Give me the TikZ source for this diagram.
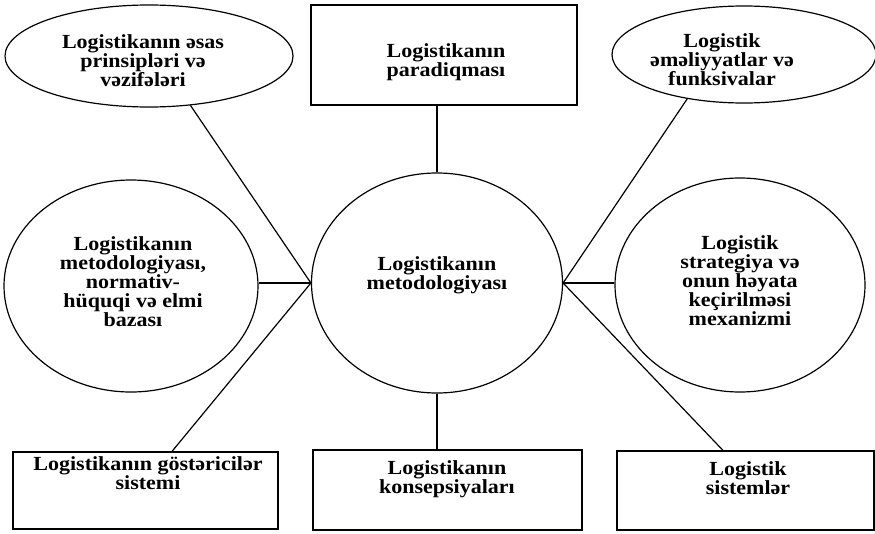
\documentclass[tikz,border=0pt]{standalone}
\usepackage{fontspec}
\setmainfont{Liberation Serif}[FakeStretch=1.1]
\usetikzlibrary{shapes.geometric,calc}
\begin{document}
\begin{tikzpicture}[x=1pt,y=-1pt,
  txt/.style={font=\fontsize{20}{19}\selectfont\bfseries, align=center, inner sep=0pt, text=black},
  oval/.style={draw, ellipse, line width=1.2pt, inner sep=0pt},
  boxx/.style={draw, rectangle, line width=1.2pt, inner sep=0pt},
  conn/.style={line width=1.2pt}
]
\useasboundingbox[fill=white] (0,0) rectangle (875,533);

% shapes
\node[oval, minimum width=288pt, minimum height=102pt] (tl) at (149,56) {};
\node[boxx, minimum width=266pt, minimum height=100pt] (tp) at (444,55) {};
\node[oval, minimum width=264pt, minimum height=97pt] (tr) at (744,54.5) {};
\node[oval, minimum width=251pt, minimum height=220pt] (c) at (437,283) {};
\node[oval, minimum width=254pt, minimum height=212pt] (lc) at (131,286) {};
\node[oval, minimum width=250pt, minimum height=214pt] (rc) at (740,285) {};
\node[boxx, minimum width=265pt, minimum height=77pt] (bl) at (145.5,490.5) {};
\node[boxx, minimum width=269pt, minimum height=80pt] (bm) at (447.5,490) {};
\node[boxx, minimum width=257pt, minimum height=79pt] (br) at (745.5,490.5) {};

% texts
\node[txt] (tlt) at (143,61) {Logistikanın əsas\\prinsipləri və\\vəzifələri};
\node[txt] (tpt) at (446,62) {Logistikanın\\paradiqması};
\node[txt] (trt) at (722,60) {Logistik\\əməliyyatlar və\\funksivalar};
\node[txt] (ct) at (437,275) {Logistikanın\\metodologiyası};
\node[txt] (lct) at (133,282) {Logistikanın\\metodologiyası,\\normativ-\\hüquqi və elmi\\bazası};
\node[txt] (rct) at (740,281) {Logistik\\strategiya və\\onun həyata\\keçirilməsi\\mexanizmi};
\node[txt] (blt) at (148,473) {Logistikanın göstəricilər\\sistemi};
\node[txt] (bmt) at (447,479) {Logistikanın\\konsepsiyaları};
\node[txt] (brt) at (748,478) {Logistik\\sistemlər};

% connectors
\draw[conn] (c.north) -- (c.north |- tp.south);
\draw[conn] (c.south) -- (c.south |- bm.north);
\draw[conn] (c.west) -- (tl.-50);
\draw[conn] (c.west) -- (c.west -| lc.east);
\draw[conn] (c.west) -- ([xshift=26.5pt]bl.north);
\draw[conn] (c.east) -- (tr.-142);
\draw[conn] (c.east) -- (c.east -| rc.west);
\draw[conn] (c.east) -- ([xshift=-22.5pt]br.north);
\end{tikzpicture}
\end{document}
